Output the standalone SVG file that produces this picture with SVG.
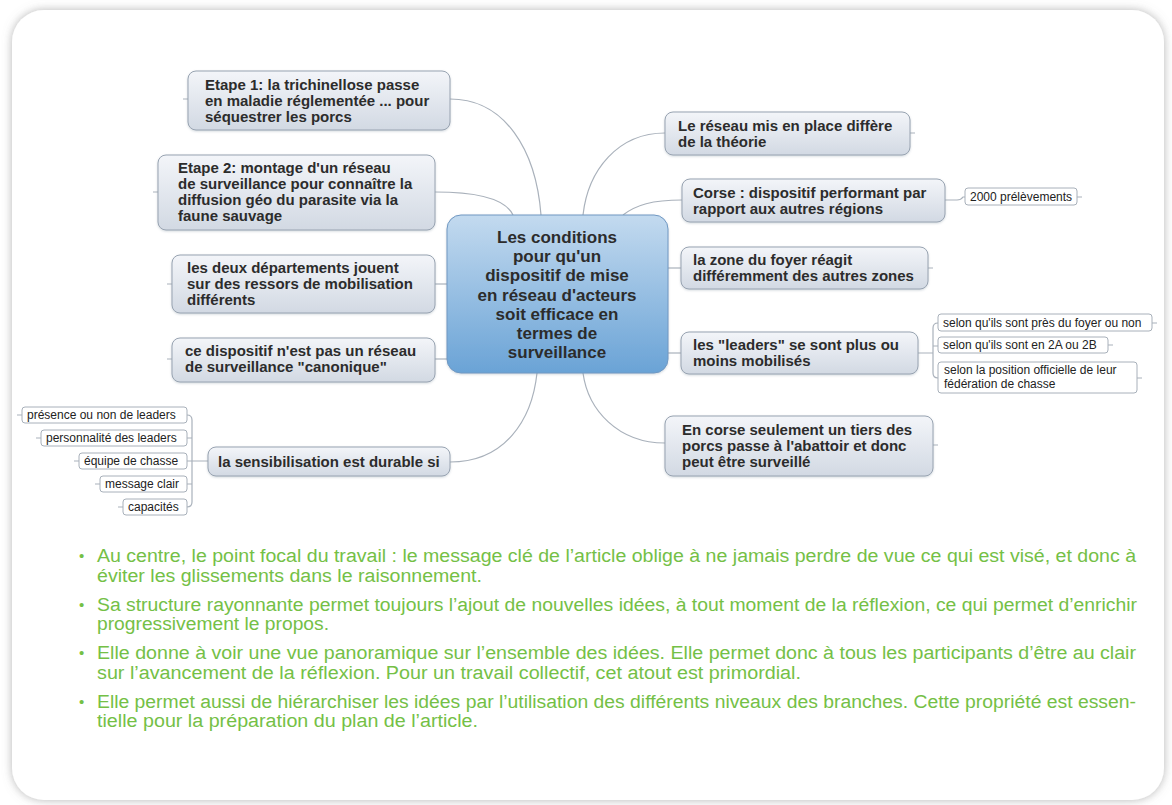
<svg xmlns="http://www.w3.org/2000/svg" width="1172" height="805" viewBox="0 0 1172 805">
<defs>
<linearGradient id="ng" x1="0" y1="0" x2="0" y2="1"><stop offset="0" stop-color="#f3f5f9"/><stop offset="1" stop-color="#d2d9e3"/></linearGradient>
<linearGradient id="cg" x1="0" y1="0" x2="0" y2="1"><stop offset="0" stop-color="#c3daef"/><stop offset="1" stop-color="#6aa3d6"/></linearGradient>
<filter id="fs" x="-5%" y="-5%" width="110%" height="110%"><feDropShadow dx="0" dy="0" stdDeviation="5" flood-color="#7a7a7a" flood-opacity="0.55"/></filter>
<filter id="ns" x="-10%" y="-10%" width="120%" height="130%"><feDropShadow dx="0" dy="1" stdDeviation="1" flood-color="#8090a0" flood-opacity="0.35"/></filter>
</defs>
<style>
.node rect{fill:url(#ng);stroke:#98a3b1;stroke-width:1;filter:url(#ns)}
.center rect{fill:url(#cg);stroke:#7098c2;stroke-width:1;filter:url(#ns)}
.leaf rect{fill:#fff;stroke:#a8b0ba;stroke-width:1}
.t{font-family:'Liberation Sans',Arial,sans-serif;font-weight:bold;font-size:15px;fill:#2c2c2c}
.ct{font-family:'Liberation Sans',Arial,sans-serif;font-weight:bold;font-size:17px;fill:#2c2c2c;text-anchor:middle}
.lt{font-family:'Liberation Sans',Arial,sans-serif;font-size:12px;fill:#222}
.conn path{fill:none;stroke:#a9b1bb;stroke-width:1.2}
.bt{font-family:'Liberation Sans',Arial,sans-serif;font-size:18px;fill:#74c046}
.bd{font-family:'Liberation Sans',Arial,sans-serif;font-size:15px;fill:#74c046}
</style>
<rect x="12" y="10" width="1152" height="790" rx="32" fill="#fff" filter="url(#fs)"/>

<g class="conn" id="connectors">
<path d="M450,99 C505,99 536,150 541,215"/>
<path d="M435,192 C480,192 506,200 513,215"/>
<path d="M435,284 H447"/>
<path d="M435,359 H447"/>
<path d="M450,462 C505,462 532,420 537,373"/>
<path d="M665,133 C618,133 588,170 583,215"/>
<path d="M682,200 C652,200 636,205 623,215"/>
<path d="M668,268 H681"/>
<path d="M668,353 H681"/>
<path d="M665,443 C618,443 588,410 583,373"/>
<path d="M945,200 H957 Q961,200 963,197 H965"/>
<path d="M918,353 H933 M938,323 Q933,323 933,328 V373 Q933,378 938,378 M933,346 H938"/>
<path d="M208,461 H192 M187,415 Q192,415 192,420 V502 Q192,507 187,507 M187,438 H192 M187,461 H192 M187,484 H192"/>
<path d="M183,99 H188 M153,192 H158 M167,284 H172 M167,359 H172 M910,133 H915 M928,268 H933 M933,445 H938 M1077,197 H1082 M1152,323 H1157 M1108,345 H1113 M1137,378 H1142 M17,415 H22 M36,438 H41 M74,461 H79 M95,484 H100 M118,507 H123"/>
</g>

<g id="center" class="center">
<rect x="447" y="215" width="221" height="158" rx="14"/>
<text class="ct"><tspan x="557" y="243">Les conditions</tspan><tspan x="557" y="262">pour qu'un</tspan><tspan x="557" y="281">dispositif de mise</tspan><tspan x="557" y="301">en réseau d'acteurs</tspan><tspan x="557" y="320">soit efficace en</tspan><tspan x="557" y="339">termes de</tspan><tspan x="557" y="358">surveillance</tspan></text>
</g>

<g id="etape1" class="node"><rect x="188" y="71" width="262" height="59" rx="8"/>
<text class="t"><tspan x="205" y="90">Etape 1: la trichinellose passe</tspan><tspan x="205" y="106">en maladie réglementée ... pour</tspan><tspan x="205" y="122">séquestrer les porcs</tspan></text></g>

<g id="etape2" class="node"><rect x="158" y="155" width="277" height="75" rx="8"/>
<text class="t"><tspan x="178" y="173">Etape 2: montage d'un réseau</tspan><tspan x="178" y="189">de surveillance pour connaître la</tspan><tspan x="178" y="205">diffusion géo du parasite via la</tspan><tspan x="178" y="221">faune sauvage</tspan></text></g>

<g id="deux-departements" class="node"><rect x="172" y="255" width="263" height="58" rx="8"/>
<text class="t"><tspan x="187" y="273">les deux départements jouent</tspan><tspan x="187" y="289">sur des ressors de mobilisation</tspan><tspan x="187" y="305">différents</tspan></text></g>

<g id="pas-canonique" class="node"><rect x="172" y="338" width="263" height="44" rx="8"/>
<text class="t"><tspan x="185" y="356">ce dispositif n'est pas un réseau</tspan><tspan x="185" y="372">de surveillance "canonique"</tspan></text></g>

<g id="sensibilisation" class="node"><rect x="208" y="447" width="242" height="29" rx="8"/>
<text class="t" x="218" y="467">la sensibilisation est durable si</text></g>

<g id="leaf-presence" class="leaf"><rect x="22" y="407" width="165" height="16" rx="3"/><text class="lt" x="27" y="419">présence ou non de leaders</text></g>
<g id="leaf-personnalite" class="leaf"><rect x="41" y="430" width="146" height="16" rx="3"/><text class="lt" x="46" y="442">personnalité des leaders</text></g>
<g id="leaf-equipe" class="leaf"><rect x="79" y="453" width="108" height="16" rx="3"/><text class="lt" x="84" y="465">équipe de chasse</text></g>
<g id="leaf-message" class="leaf"><rect x="100" y="476" width="87" height="16" rx="3"/><text class="lt" x="105" y="488">message clair</text></g>
<g id="leaf-capacites" class="leaf"><rect x="123" y="499" width="64" height="16" rx="3"/><text class="lt" x="128" y="511">capacités</text></g>

<g id="reseau-theorie" class="node"><rect x="665" y="112" width="245" height="43" rx="8"/>
<text class="t"><tspan x="678" y="131">Le réseau mis en place diffère</tspan><tspan x="678" y="147">de la théorie</tspan></text></g>

<g id="corse-performant" class="node"><rect x="682" y="179" width="263" height="43" rx="8"/>
<text class="t"><tspan x="693" y="198">Corse : dispositif performant par</tspan><tspan x="693" y="214">rapport aux autres régions</tspan></text></g>

<g id="leaf-2000" class="leaf"><rect x="965" y="188" width="112" height="17" rx="3"/><text class="lt" x="970" y="201">2000 prélèvements</text></g>

<g id="zone-foyer" class="node"><rect x="681" y="247" width="247" height="42" rx="8"/>
<text class="t"><tspan x="693" y="265">la zone du foyer réagit</tspan><tspan x="693" y="281">différemment des autres zones</tspan></text></g>

<g id="leaders" class="node"><rect x="681" y="332" width="237" height="42" rx="8"/>
<text class="t"><tspan x="693" y="350">les "leaders" se sont plus ou</tspan><tspan x="693" y="366">moins mobilisés</tspan></text></g>

<g id="leaf-foyer" class="leaf"><rect x="938" y="314" width="214" height="17" rx="3"/><text class="lt" x="943" y="327">selon qu'ils sont près du foyer ou non</text></g>
<g id="leaf-2a2b" class="leaf"><rect x="938" y="337" width="170" height="16" rx="3"/><text class="lt" x="943" y="349">selon qu'ils sont en 2A ou 2B</text></g>
<g id="leaf-federation" class="leaf"><rect x="938" y="362" width="199" height="31" rx="3"/><text class="lt"><tspan x="944" y="374">selon la position officielle de leur</tspan><tspan x="944" y="388">fédération de chasse</tspan></text></g>

<g id="corse-abattoir" class="node"><rect x="665" y="416" width="268" height="60" rx="8"/>
<text class="t"><tspan x="682" y="435">En corse seulement un tiers des</tspan><tspan x="682" y="451">porcs passe à l'abattoir et donc</tspan><tspan x="682" y="467">peut être surveillé</tspan></text></g>

<g id="bullets">
<text class="bd" x="79" y="561">•</text>
<text class="bt" x="97" y="562" textLength="1039" lengthAdjust="spacingAndGlyphs">Au centre, le point focal du travail : le message clé de l’article oblige à ne jamais perdre de vue ce qui est visé, et donc à</text>
<text class="bt" x="97" y="582" textLength="385" lengthAdjust="spacingAndGlyphs">éviter les glissements dans le raisonnement.</text>
<text class="bd" x="79" y="610">•</text>
<text class="bt" x="97" y="611" textLength="1040" lengthAdjust="spacingAndGlyphs">Sa structure rayonnante permet toujours l’ajout de nouvelles idées, à tout moment de la réflexion, ce qui permet d’enrichir</text>
<text class="bt" x="97" y="630" textLength="232" lengthAdjust="spacingAndGlyphs">progressivement le propos.</text>
<text class="bd" x="79" y="658">•</text>
<text class="bt" x="97" y="659" textLength="1039" lengthAdjust="spacingAndGlyphs">Elle donne à voir une vue panoramique sur l’ensemble des idées. Elle permet donc à tous les participants d’être au clair</text>
<text class="bt" x="97" y="679" textLength="704" lengthAdjust="spacingAndGlyphs">sur l’avancement de la réflexion. Pour un travail collectif, cet atout est primordial.</text>
<text class="bd" x="79" y="707">•</text>
<text class="bt" x="97" y="708" textLength="1039" lengthAdjust="spacingAndGlyphs">Elle permet aussi de hiérarchiser les idées par l’utilisation des différents niveaux des branches. Cette propriété est essen-</text>
<text class="bt" x="97" y="727" textLength="381" lengthAdjust="spacingAndGlyphs">tielle pour la préparation du plan de l’article.</text>
</g>
</svg>
